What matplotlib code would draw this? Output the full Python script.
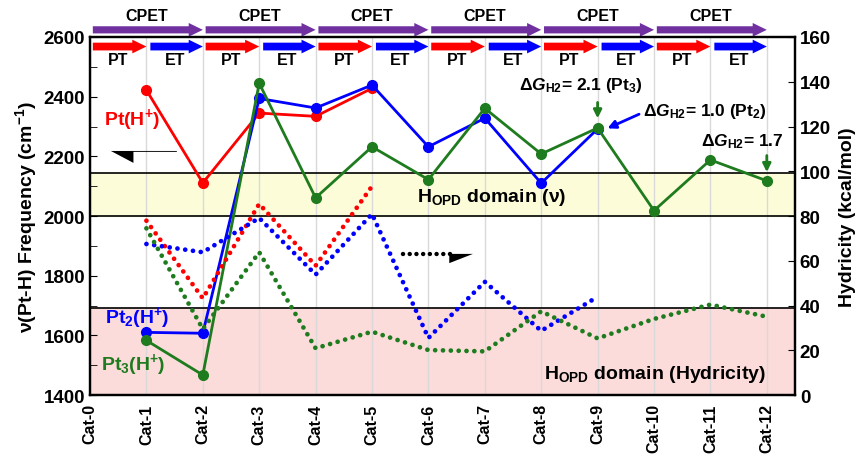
import numpy as np
import matplotlib
matplotlib.use("Agg")
import matplotlib.pyplot as plt
from matplotlib.patches import FancyArrow
from matplotlib.ticker import MultipleLocator

plt.rcParams["font.family"] = ["Liberation Sans", "DejaVu Sans"]
plt.rcParams["font.weight"] = "bold"
plt.rcParams["mathtext.fontset"] = "custom"
plt.rcParams["mathtext.rm"] = "Liberation Sans:bold"
plt.rcParams["mathtext.bf"] = "Liberation Sans:bold"
plt.rcParams["mathtext.it"] = "Liberation Sans:italic:bold"

cats = [f"Cat-{i}" for i in range(13)]

# Pt-H stretching frequency (cm-1), left axis
freq_pt1 = [2422, 2111, 2345, 2334, 2428]            # Cat-1 .. Cat-5
freq_pt2 = [1610, 1607, 2394, 2362, 2439, 2232, 2328, 2110, 2292]  # Cat-1 .. Cat-9
freq_pt3 = [1583, 1467, 2445, 2061, 2232, 2122, 2361, 2208, 2295, 2018, 2188, 2118]  # Cat-1 .. Cat-12

# hydricity (kcal/mol), right axis
hyd_pt1 = [77.9, 43.2, 85.4, 57.8, 93.3]
hyd_pt2 = [67.5, 63.8, 79.1, 53.8, 80.9, 25.5, 50.6, 28.7, 43.9]
hyd_pt3 = [74.5, 29.5, 63.8, 20.9, 28.3, 20.1, 19.5, 37.4, 25.3, 34.0, 40.4, 35.0]

# H_OPD windows on the frequency scale
nu_domain = (2000, 2145)
hyd_domain = (1400, 1690)

RED, BLUE, GREEN, PURPLE = "#ff0000", "#0000ff", "#1e7b1e", "#7030a0"

fig = plt.figure(figsize=(8.63, 4.60), dpi=100)
ax = fig.add_axes([0.1043, 0.1391, 0.8169, 0.7783])
ax2 = ax.twinx()

ax.set_xlim(0, 12.5)
ax.set_ylim(1400, 2600)
ax2.set_ylim(0, 160)

# domain bands
ax.axhspan(*nu_domain, color="#fdfcd8", zorder=0)
ax.axhspan(*hyd_domain, color="#fbdcda", zorder=0)
for y in (nu_domain[0], nu_domain[1], hyd_domain[1]):
    ax.axhline(y, color="black", lw=1.2, zorder=1)

for i in range(13):
    ax.axvline(i, color="#d9d9d9", lw=1.0, zorder=0.5)

xs = np.arange(1, 13)
ax.plot(xs[:5], freq_pt1, "-o", color=RED, lw=2, ms=7, zorder=3)
ax.plot(xs[:9], freq_pt2, "-o", color=BLUE, lw=2, ms=7, zorder=3)
ax.plot(xs, freq_pt3, "-o", color=GREEN, lw=2, ms=7, zorder=3)

dot = dict(lw=3.4, ls=(0, (0.01, 1.65)), dash_capstyle="round")
ax2.plot(xs[:5], hyd_pt1, color=RED, **dot)
ax2.plot(xs[:9], hyd_pt2, color=BLUE, **dot)
ax2.plot(xs, hyd_pt3, color=GREEN, **dot)

# step arrows: PT / ET inside, CPET above the frame
for k in range(6):
    x0 = 2 * k
    ax.add_patch(FancyArrow(x0 + 0.05, 2568, 0.95, 0, width=26, head_width=46,
                            head_length=0.25, length_includes_head=True,
                            color=RED, lw=0, clip_on=False, zorder=4))
    ax.add_patch(FancyArrow(x0 + 1.07, 2568, 0.93, 0, width=26, head_width=46,
                            head_length=0.25, length_includes_head=True,
                            color=BLUE, lw=0, clip_on=False, zorder=4))
    ax.add_patch(FancyArrow(x0 + 0.05, 2624, 1.95, 0, width=24, head_width=46,
                            head_length=0.25, length_includes_head=True,
                            color=PURPLE, lw=0, clip_on=False, zorder=4))
    ax.text(x0 + 0.5, 2526, "PT", ha="center", va="center", fontsize=11.5)
    ax.text(x0 + 1.5, 2526, "ET", ha="center", va="center", fontsize=11.5)
    ax.text(x0 + 1.0, 2672, "CPET", ha="center", va="center", fontsize=11.5)

# axis-direction arrows
ax.add_patch(FancyArrow(1.54, 2218, -1.17, 0, width=6, head_width=80,
                        head_length=0.4, length_includes_head=True,
                        shape="right", color="black", lw=0, zorder=4))
ax.plot([5.55, 6.4], [1873, 1873], color="black", lw=3.2, ls=(0, (0.01, 1.5)),
        dash_capstyle="round", zorder=4)
ax.add_patch(FancyArrow(6.35, 1873, 0.44, 0, width=6, head_width=62,
                        head_length=0.42, length_includes_head=True,
                        shape="left", color="black", lw=0, zorder=4))

# series labels
ax.text(0.25, 2325, "Pt(H$^{+}$)", color=RED, fontsize=14, va="center")
ax.text(0.26, 1661, "Pt$_{2}$(H$^{+}$)", color=BLUE, fontsize=14, va="center")
ax.text(0.19, 1504, "Pt$_{3}$(H$^{+}$)", color=GREEN, fontsize=14, va="center")

ax.text(5.8, 2065, "H$_{\\rm OPD}$ domain (ν)", fontsize=14, va="center")
ax.text(8.05, 1473, "H$_{\\rm OPD}$ domain (Hydricity)", fontsize=14, va="center")

# ΔG_H2 callouts
ax.annotate("", xy=(9, 2318), xytext=(9, 2390),
            arrowprops=dict(arrowstyle="-|>", color=GREEN, lw=2, mutation_scale=12))
ax.text(8.7, 2440, "Δ$\\it{G}$$_{\\rm H2}$= 2.1 (Pt$_{3}$)", ha="center",
        va="center", fontsize=12.5)
ax.annotate("", xy=(9.13, 2290), xytext=(9.78, 2345),
            arrowprops=dict(arrowstyle="-|>", color=BLUE, lw=2, mutation_scale=12))
ax.text(9.8, 2355, "Δ$\\it{G}$$_{\\rm H2}$= 1.0 (Pt$_{2}$)", ha="left",
        va="center", fontsize=12.5)
ax.annotate("", xy=(12, 2138), xytext=(12, 2212),
            arrowprops=dict(arrowstyle="-|>", color=GREEN, lw=2, mutation_scale=12))
ax.text(11.57, 2252, "Δ$\\it{G}$$_{\\rm H2}$= 1.7", ha="center",
        va="center", fontsize=12.5)

# axes styling
ax.set_xticks(range(13))
ax.set_xticklabels(cats, rotation=90, fontsize=11.5, fontweight="bold")
ax.tick_params(axis="x", length=0, pad=6)
ax.yaxis.set_major_locator(MultipleLocator(200))
ax.yaxis.set_minor_locator(MultipleLocator(100))
ax.tick_params(axis="y", which="both", direction="in", labelsize=13.5, length=5)
ax2.yaxis.set_major_locator(MultipleLocator(20))
ax2.tick_params(axis="y", direction="in", labelsize=13.5, length=5)
for a in (ax, ax2):
    for sp in a.spines.values():
        sp.set_linewidth(1.6)
    for lab in a.get_yticklabels():
        lab.set_fontweight("bold")

ax.set_ylabel("ν(Pt-H) Frequency (cm$^{-1}$)", fontsize=14, fontweight="bold", labelpad=3)
ax2.set_ylabel("Hydricity (kcal/mol)", fontsize=14, fontweight="bold", labelpad=6)

fig.savefig("out.png", dpi=100)
